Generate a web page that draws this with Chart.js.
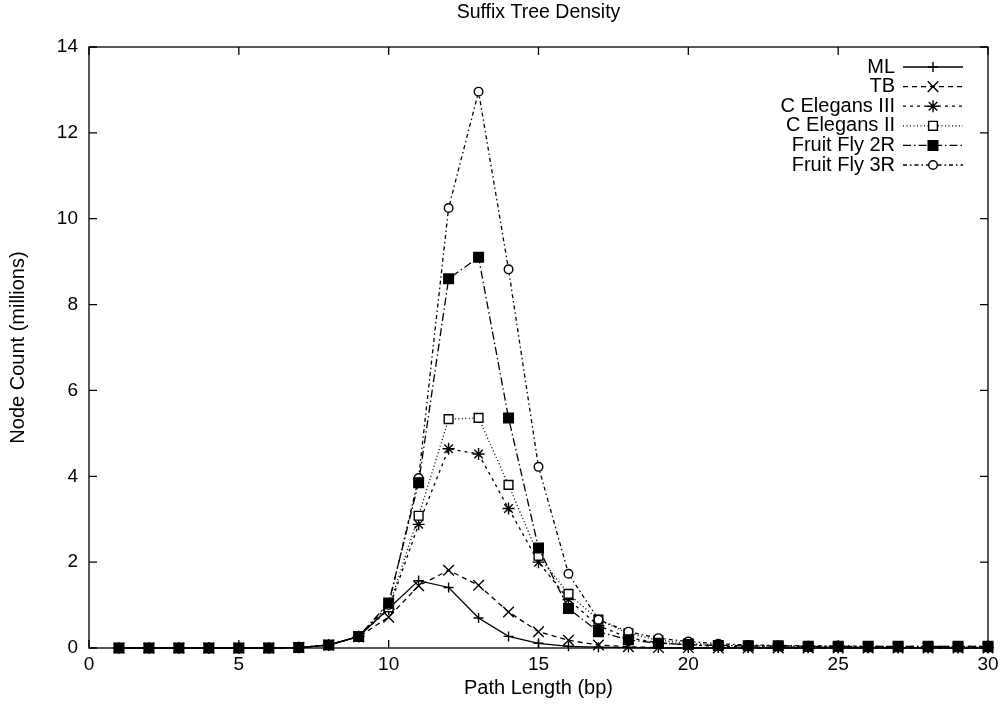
<!DOCTYPE html>
<html>
<head>
<meta charset="utf-8">
<title>Suffix Tree Density</title>
<script src="https://cdn.jsdelivr.net/npm/chart.js@4.4.1/dist/chart.umd.min.js"></script>
<style>
  html, body { margin: 0; padding: 0; background: #fff; }
  #wrap { width: 1000px; height: 709px; position: relative; }
</style>
</head>
<body>
<div id="wrap"><canvas id="chartDensity"></canvas></div>
<script>
// path length (bp) on the x axis
const pathLengths = [1, 2, 3, 4, 5, 6, 7, 8, 9, 10, 11, 12, 13, 14, 15, 16, 17, 18, 19, 20, 21, 22, 23, 24, 25, 26, 27, 28, 29, 30];

// node counts in millions, one value per path length
const mlCounts        = [0, 0, 0, 0, 0, 0, 0.01, 0.07, 0.27, 0.92, 1.57, 1.41, 0.70, 0.27, 0.11, 0.04, 0.02, 0.01, 0, 0, 0, 0, 0, 0, 0, 0, 0, 0, 0, 0];
const tbCounts        = [0, 0, 0, 0, 0, 0, 0.01, 0.07, 0.26, 0.72, 1.45, 1.81, 1.46, 0.84, 0.38, 0.18, 0.07, 0.03, 0.01, 0.01, 0, 0, 0, 0, 0, 0, 0, 0, 0, 0];
const celegans3Counts = [0, 0, 0, 0, 0, 0, 0.01, 0.07, 0.27, 0.90, 2.88, 4.64, 4.52, 3.25, 2.00, 1.13, 0.52, 0.24, 0.12, 0.07, 0.04, 0.03, 0.02, 0.02, 0.01, 0.01, 0.01, 0.01, 0.01, 0.01];
const celegans2Counts = [0, 0, 0, 0, 0, 0, 0.01, 0.07, 0.27, 0.95, 3.08, 5.33, 5.36, 3.80, 2.15, 1.26, 0.66, 0.34, 0.18, 0.11, 0.07, 0.05, 0.04, 0.03, 0.03, 0.02, 0.02, 0.02, 0.02, 0.02];
const fly2rCounts     = [0, 0, 0, 0, 0, 0, 0.01, 0.07, 0.27, 1.05, 3.85, 8.60, 9.10, 5.36, 2.33, 0.92, 0.38, 0.19, 0.11, 0.08, 0.06, 0.05, 0.05, 0.04, 0.04, 0.04, 0.04, 0.04, 0.04, 0.04];
const fly3rCounts     = [0, 0, 0, 0, 0, 0, 0.01, 0.07, 0.27, 1.00, 3.96, 10.25, 12.96, 8.82, 4.22, 1.73, 0.66, 0.38, 0.23, 0.15, 0.10, 0.07, 0.06, 0.05, 0.05, 0.04, 0.04, 0.04, 0.04, 0.04];

const seriesNames = ['ML', 'TB', 'C Elegans III', 'C Elegans II', 'Fruit Fly 2R', 'Fruit Fly 3R'];

// tick values
const xTicks = [0, 5, 10, 15, 20, 25, 30];
const yTicks = [0, 2, 4, 6, 8, 10, 12, 14];

const FONT = "'Liberation Sans', Arial, Helvetica, sans-serif";

function toPoints(values) {
    return values.map((v, i) => ({ x: pathLengths[i], y: v }));
}

// line/marker style per series (gnuplot-ish); order: lower = drawn later
const styles = [
    { dash: [],             point: 'cross',    radius: 5,   fill: '#000', order: 6 },
    { dash: [5, 4],         point: 'crossRot', radius: 7.5, fill: '#000', order: 5 },
    { dash: [3, 4],         point: 'star',     radius: 6,   fill: '#000', order: 4 },
    { dash: [1, 2.5],       point: 'rect',     radius: 6.2, fill: '#fff', order: 3 },
    { dash: [8, 3, 1.5, 3], point: 'rect',     radius: 6.8, fill: '#000', order: 1 },
    { dash: [4, 3, 1.5, 3], point: 'circle',   radius: 4.3, fill: '#fff', order: 2 }
];

const allCounts = [mlCounts, tbCounts, celegans3Counts, celegans2Counts, fly2rCounts, fly3rCounts];

const datasets = allCounts.map((values, i) => ({
    label: seriesNames[i],
    data: toPoints(values),
    borderColor: '#000',
    borderWidth: 1.3,
    borderDash: styles[i].dash,
    pointStyle: styles[i].point,
    pointRadius: styles[i].radius,
    pointBorderWidth: 1.4,
    pointBorderColor: '#000',
    pointBackgroundColor: styles[i].fill,
    tension: 0,
    fill: false,
    clip: false,
    order: styles[i].order
}));

// border box, inward ticks, title and key
const gnuplotFrame = {
    id: 'gnuplotFrame',
    afterDraw(chart) {
        const { ctx, chartArea: a, scales } = chart;
        ctx.save();
        ctx.strokeStyle = '#000';
        ctx.lineWidth = 1.3;
        ctx.setLineDash([]);
        ctx.strokeRect(a.left, a.top, a.right - a.left, a.bottom - a.top);

        ctx.beginPath();
        xTicks.forEach(v => {
            const px = scales.x.getPixelForValue(v);
            ctx.moveTo(px, a.bottom); ctx.lineTo(px, a.bottom - 8);
            ctx.moveTo(px, a.top);    ctx.lineTo(px, a.top + 8);
        });
        yTicks.forEach(v => {
            const py = scales.y.getPixelForValue(v);
            ctx.moveTo(a.left, py);  ctx.lineTo(a.left + 8, py);
            ctx.moveTo(a.right, py); ctx.lineTo(a.right - 8, py);
        });
        ctx.stroke();

        // title
        ctx.fillStyle = '#000';
        ctx.font = '19.5px ' + FONT;
        ctx.textAlign = 'center';
        ctx.textBaseline = 'middle';
        ctx.fillText('Suffix Tree Density', (a.left + a.right) / 2, 13);

        // key, top right
        ctx.font = '20px ' + FONT;
        ctx.textAlign = 'right';
        chart.data.datasets.forEach((ds, i) => {
            const y = 67 + i * 19.6;
            ctx.fillStyle = '#000';
            ctx.fillText(ds.label, 895, y);

            ctx.beginPath();
            ctx.setLineDash(ds.borderDash);
            ctx.lineWidth = ds.borderWidth;
            ctx.moveTo(903, y);
            ctx.lineTo(963, y);
            ctx.stroke();
            ctx.setLineDash([]);

            ctx.fillStyle = ds.pointBackgroundColor;
            ctx.lineWidth = ds.pointBorderWidth;
            Chart.helpers.drawPoint(ctx, {
                pointStyle: ds.pointStyle,
                radius: ds.pointRadius,
                borderWidth: ds.pointBorderWidth,
                rotation: 0
            }, 933, y);
        });
        ctx.restore();
    }
};

new Chart(document.getElementById('chartDensity'), {
    type: 'line',
    data: { datasets: datasets },
    plugins: [gnuplotFrame],
    options: {
        responsive: true,
        maintainAspectRatio: false,
        animation: false,
        layout: { padding: { top: 47, right: 12, left: 0, bottom: 0 } },
        plugins: {
            legend: { display: false },
            title: { display: false },
            tooltip: { enabled: false }
        },
        scales: {
            x: {
                type: 'linear',
                min: 0,
                max: 30,
                afterBuildTicks: scale => { scale.ticks = xTicks.map(v => ({ value: v })); },
                afterFit: scale => {
                    scale.height = 61;
                    scale.paddingLeft = 0;
                    scale.paddingRight = 0;
                },
                grid: { display: false, drawTicks: false },
                border: { display: false },
                ticks: { color: '#000', padding: 5, maxRotation: 0, font: { size: 19, family: FONT } },
                title: {
                    display: true,
                    text: 'Path Length (bp)',
                    color: '#000',
                    font: { size: 20, family: FONT },
                    padding: { top: 0, bottom: 9 }
                }
            },
            y: {
                min: 0,
                max: 14,
                afterBuildTicks: scale => { scale.ticks = yTicks.map(v => ({ value: v })); },
                afterFit: scale => { scale.width = 89; },
                grid: { display: false, drawTicks: false },
                border: { display: false },
                ticks: { color: '#000', padding: 11, font: { size: 19, family: FONT } },
                title: {
                    display: true,
                    text: 'Node Count (millions)',
                    color: '#000',
                    font: { size: 20, family: FONT },
                    padding: { top: 6, bottom: 0 }
                }
            }
        }
    }
});
</script>
</body>
</html>
